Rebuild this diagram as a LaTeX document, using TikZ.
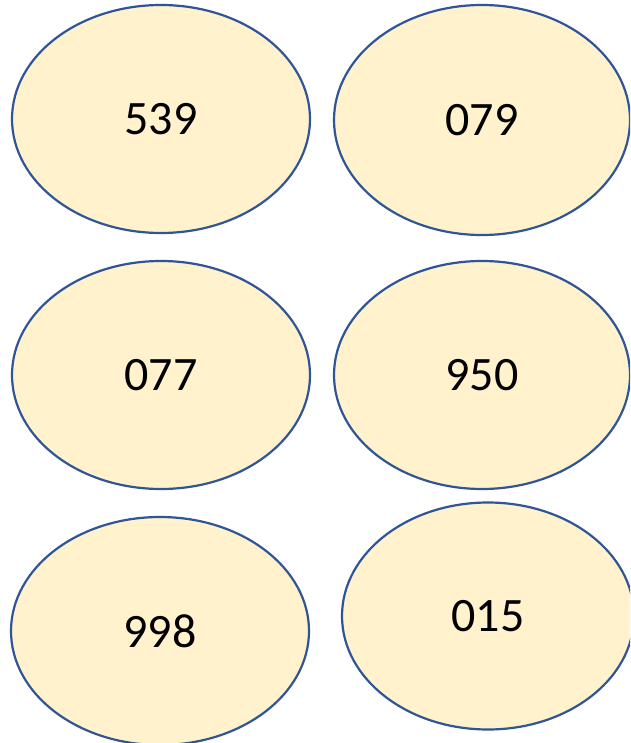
\documentclass[tikz,border=0pt]{standalone}
\usepackage{fontspec}
\setmainfont{Carlito}
\usetikzlibrary{shapes.geometric}
\definecolor{ringblue}{HTML}{2F5597}
\definecolor{cream}{HTML}{FFF2CC}
\begin{document}
\begin{tikzpicture}[x=1pt, y=-1pt,
  code/.style = {ellipse, draw=ringblue, fill=cream, line width=2.2pt,
    minimum width=298pt, minimum height=228pt, inner sep=0pt,
    font=\fontsize{48}{56}\selectfont}]
\useasboundingbox (0,0) rectangle (630,743);
\clip (0,0) rectangle (630,743);
\node[code] (a) at (161,119) {539};
\node[code, minimum width=296pt, minimum height=230pt] (b) at (482,120) {079};
\node[code] (c) at (161,375) {077};
\node[code, minimum width=296pt] (d) at (482,375) {950};
\node[code] (e) at (160,631) {998};
\node[code, minimum width=292pt, minimum height=227pt] (f) at (488,616) {015};
\end{tikzpicture}
\end{document}
